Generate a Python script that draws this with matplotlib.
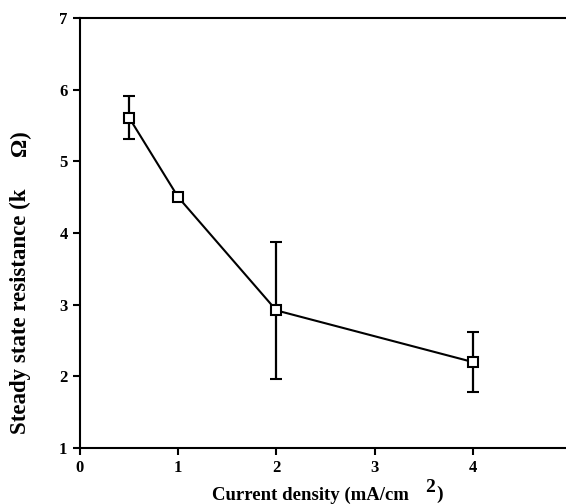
import matplotlib
matplotlib.use("Agg")
import matplotlib.pyplot as plt

# Data
current_density = [0.5, 1, 2, 4]
resistance = [5.61, 4.50, 2.92, 2.20]
error = [0.30, 0.0, 0.96, 0.42]
x_ticks = [0, 1, 2, 3, 4]
y_ticks = [1, 2, 3, 4, 5, 6, 7]

plt.rcParams['font.family'] = ['Liberation Serif', 'DejaVu Serif']
plt.rcParams['font.weight'] = 'bold'

W, H = 566, 504
fig = plt.figure(figsize=(W / 100, H / 100), dpi=100)
ax = fig.add_axes([80 / W, 1 - 448 / H, 1 - 80 / W, (448 - 18) / H])

ax.errorbar(current_density, resistance, yerr=error, color='black', lw=1.5,
            marker='s', markersize=7.5, markerfacecolor='white',
            markeredgecolor='black', markeredgewidth=1.5,
            capsize=4.5, capthick=1.8, elinewidth=1.6)

ax.set_xlim(0, 4.95)
ax.set_ylim(1, 7)
ax.set_xticks(x_ticks)
ax.set_yticks(y_ticks)
ax.tick_params(direction='out', length=5, width=1.5, labelsize=12, pad=4)
for lab in ax.get_xticklabels() + ax.get_yticklabels():
    lab.set_fontweight('bold')

ax.spines['right'].set_visible(False)
for s in ['left', 'top', 'bottom']:
    ax.spines[s].set_linewidth(1.5)

# x label: "Current density (mA/cm  2)"
fig.text(212 / W, 1 - 500 / H, 'Current density (mA/cm', ha='left', va='baseline',
         fontsize=13.5, fontweight='bold')
fig.text(430 / W, 1 - 492 / H, '2', ha='center', va='baseline', fontsize=14, fontweight='bold')
fig.text(440 / W, 1 - 499 / H, ')', ha='center', va='baseline', fontsize=14, fontweight='bold')

# y label: "Steady state resistance (k    Ω)"
fig.text(20 / W, 1 - 434 / H, 'Steady state resistance (k', rotation=90,
         ha='center', va='bottom', fontsize=16.5, fontweight='bold')
fig.text(20 / W, 1 - 130 / H, 'Ω)', rotation=90,
         ha='center', va='top', fontsize=16.5, fontweight='bold')

fig.savefig('out.png', dpi=100)
